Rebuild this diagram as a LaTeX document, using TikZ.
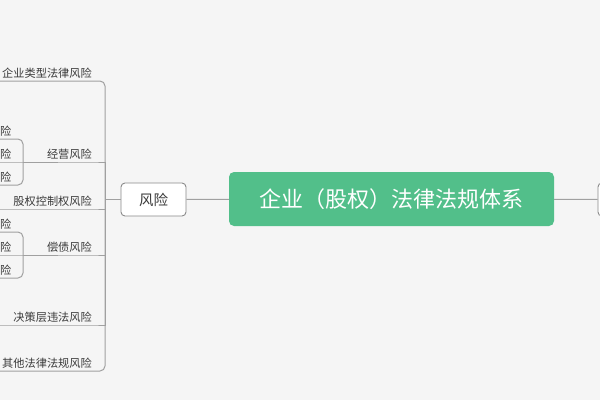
\documentclass[tikz,border=0pt]{standalone}
\usepackage{fontspec}
\setmainfont{Noto Sans CJK SC}
\usetikzlibrary{positioning}

\definecolor{canvasgray}{HTML}{F5F5F5}
\definecolor{rootgreen}{HTML}{52BF8A}
\definecolor{linegray}{HTML}{A0A0A0}
\definecolor{boxgray}{HTML}{8A8A8A}
\definecolor{textgray}{HTML}{3A3A3A}

\tikzset{
  root/.style={fill=rootgreen, text=white, rounded corners=5pt, inner sep=0pt,
    minimum width=325pt, minimum height=54pt, font=\fontsize{22}{26}\selectfont},
  topic/.style={draw=boxgray, fill=white, rounded corners=4pt, line width=0.9pt,
    minimum width=65pt, minimum height=33pt, text=textgray, font=\fontsize{14.5}{17}\selectfont},
  leaf/.style={inner sep=0pt, minimum height=16pt, anchor=south east, text=textgray,
    font=\fontsize{11.2}{13}\selectfont},
  branch/.style={draw=linegray, line width=1pt},
  roundbranch/.style={branch, rounded corners=5pt},
}

\begin{document}
\begin{tikzpicture}[x=1pt, y=-1pt]
    % Canvas
    \fill[canvasgray] (0,0) rectangle (600,400);
    \useasboundingbox (0,0) rectangle (600,400);
    \clip (0,0) rectangle (600,400);

    % Main topics
    \node[root] (law) at (391.5,199) {企业（股权）法律法规体系};
    \node[topic] (risk) at (153.5,199.5) {风险};
    \node[topic, anchor=west] (next) at (597.5,199.5) {};
    \draw[branch] (risk) -- (law);
    \draw[branch] (law) -- (next);

    % Risk branches
    \coordinate (trunk) at (105,199.5);
    \node[leaf] (b1) at (92,81) {企业类型法律风险};
    \node[leaf] (b2) at (92,162) {经营风险};
    \node[leaf] (b3) at (92,209) {股权控制权风险};
    \node[leaf] (b4) at (92,255) {偿债风险};
    \node[leaf] (b5) at (92,325) {决策层违法风险};
    \node[leaf] (b6) at (92,371) {其他法律法规风险};

    \draw[branch] (risk.west) -- (trunk);
    \draw[roundbranch] (trunk) |- (b1.south east) -- (b1.south west) -- ++(-30,0);
    \draw[roundbranch] (trunk) |- (b6.south east) -- (b6.south west) -- ++(-30,0);
    \draw[branch] (trunk) |- (b3.south east) -- (b3.south west) -- ++(-30,0);
    \draw[branch] (trunk) |- (b5.south east) -- (b5.south west) -- ++(-30,0);

    % Sub branches
    \coordinate (j2) at (23,162);
    \coordinate (j4) at (23,255);
    \draw[branch] (trunk) |- (b2.south east) -- (j2);
    \draw[branch] (trunk) |- (b4.south east) -- (j4);

    \node[leaf] (s21) at (11.5,139) {险};
    \node[leaf] (s22) at (11.5,162) {险};
    \node[leaf] (s23) at (11.5,185) {险};
    \draw[roundbranch] (j2) |- (s21.south east) -- ++(-30,0);
    \draw[branch] (j2) -- (s22.south east) -- ++(-30,0);
    \draw[roundbranch] (j2) |- (s23.south east) -- ++(-30,0);

    \node[leaf] (s41) at (11.5,232) {险};
    \node[leaf] (s42) at (11.5,255) {险};
    \node[leaf] (s43) at (11.5,278) {险};
    \draw[roundbranch] (j4) |- (s41.south east) -- ++(-30,0);
    \draw[branch] (j4) -- (s42.south east) -- ++(-30,0);
    \draw[roundbranch] (j4) |- (s43.south east) -- ++(-30,0);
\end{tikzpicture}
\end{document}
